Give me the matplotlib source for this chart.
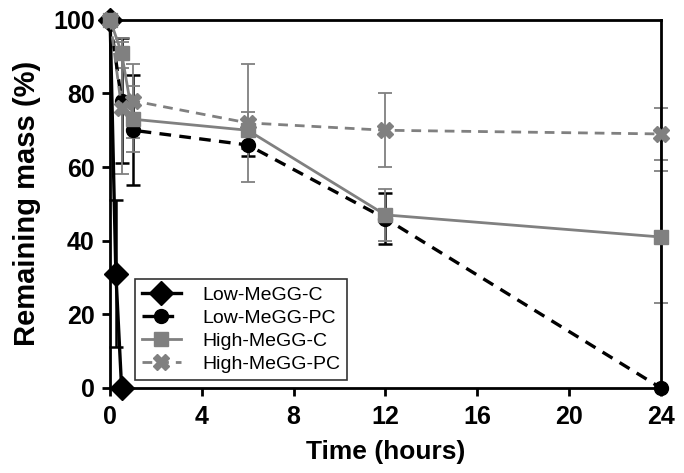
import matplotlib
matplotlib.use("Agg")
import matplotlib.pyplot as plt

plt.rcParams['font.family'] = ['Liberation Sans', 'DejaVu Sans']

# datos
t_low_c = [0, 0.25, 0.5]
low_c = [100, 31, 0]
low_c_err = [0, 20, 0]

t = [0, 0.5, 1, 6, 12, 24]
low_pc = [100, 78, 70, 66, 46, 0]
low_pc_err = [0, 17, 15, 3, 7, 0]
high_c = [100, 91, 73, 70, 47, 41]
high_c_err = [0, 4, 9, 5, 7, 18]
high_pc = [100, 76, 78, 72, 70, 69]
high_pc_err = [0, 18, 10, 16, 10, 7]

x_ticks = [0, 4, 8, 12, 16, 20, 24]
y_ticks = [0, 20, 40, 60, 80, 100]

gris = '#808080'
guion = (0, (3.5, 2.5))

fig = plt.figure(figsize=(6.84, 4.73), dpi=100)
ax = fig.add_axes([0.161, 0.18, 0.805, 0.778])

# barras de error (sin leyenda)
ax.errorbar(t_low_c, low_c, yerr=low_c_err, fmt='none', ecolor='black',
            elinewidth=1.8, capsize=5, capthick=1.8, clip_on=False, zorder=2)
ax.errorbar(t, low_pc, yerr=low_pc_err, fmt='none', ecolor='black',
            elinewidth=1.8, capsize=5, capthick=1.8, clip_on=False, zorder=2)
ax.errorbar(t, high_pc, yerr=high_pc_err, fmt='none', ecolor=gris,
            elinewidth=1.3, capsize=5, capthick=1.3, clip_on=False, zorder=2)
ax.errorbar(t, high_c, yerr=high_c_err, fmt='none', ecolor=gris,
            elinewidth=1.3, capsize=5, capthick=1.3, clip_on=False, zorder=2)

# series
l1, = ax.plot(t_low_c, low_c, color='black', marker='D', ms=12, lw=2.4,
              label='Low-MeGG-C', clip_on=False, zorder=3)
l2, = ax.plot(t, low_pc, color='black', marker='o', ms=10, lw=2.4, ls=guion,
              label='Low-MeGG-PC', clip_on=False, zorder=3)
l4, = ax.plot(t, high_pc, color=gris, marker='X', ms=11, lw=2.0, ls=guion,
              label='High-MeGG-PC', clip_on=False, zorder=4)
l3, = ax.plot(t, high_c, color=gris, marker='s', ms=10, lw=2.0,
              label='High-MeGG-C', clip_on=False, zorder=5)

ax.set_xlim(0, 24)
ax.set_ylim(0, 100)
ax.set_xticks(x_ticks)
ax.set_yticks(y_ticks)
for s in ax.spines.values():
    s.set_linewidth(2)
ax.tick_params(direction='out', length=6, width=2, labelsize=18)
ax.tick_params(axis='x', pad=6)
ax.tick_params(axis='y', pad=5)
for lbl in ax.get_xticklabels() + ax.get_yticklabels():
    lbl.set_fontweight('bold')

ax.set_xlabel('Time (hours)', fontsize=19, fontweight='bold', labelpad=8)
ax.set_ylabel('Remaining mass (%)', fontsize=21, fontweight='bold', labelpad=9)

leg = ax.legend([l1, l2, l3, l4], ['Low-MeGG-C', 'Low-MeGG-PC', 'High-MeGG-C', 'High-MeGG-PC'],
                loc='lower left', bbox_to_anchor=(0.045, 0.022), fontsize=14,
                frameon=True, fancybox=False, edgecolor='black',
                handlelength=2.0, handletextpad=1.1, labelspacing=0.28,
                borderpad=0.35, borderaxespad=0)
leg.get_frame().set_linewidth(1.2)

fig.savefig('out.png', dpi=100)
